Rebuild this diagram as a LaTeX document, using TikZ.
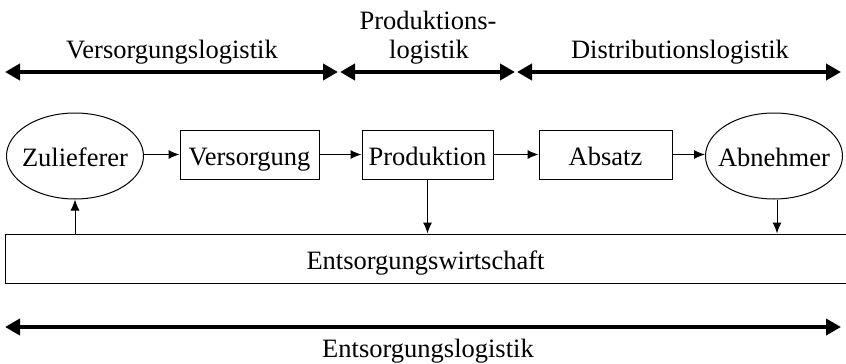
\documentclass[tikz,border=0pt]{standalone}
\usepackage{fontspec}
\setmainfont{Liberation Serif}
\usetikzlibrary{arrows.meta,shapes.geometric}
\begin{document}
\begin{tikzpicture}[x=1pt,y=-1pt,
  every node/.style={font=\fontsize{26.5}{30}\selectfont, inner sep=0pt},
  boxtext/.style={text height=21pt, text depth=0pt},
  stage/.style={draw, boxtext, line width=1pt, minimum width=139pt, minimum height=49pt},
  party/.style={draw, boxtext, ellipse, inner xsep=-10pt, line width=1pt, minimum width=137pt, minimum height=86pt},
  sink/.style={draw, boxtext, line width=1pt, minimum height=49pt},
  flow/.style={line width=1pt, -{Latex[length=11pt,width=9pt]}},
  span/.style={line width=4pt, {Triangle[length=15pt,width=16pt]}-{Triangle[length=15pt,width=16pt]}},
  label/.style={anchor=base}]
\useasboundingbox (0,0) rectangle (846,364);

% logistics ranges
\coordinate (v1) at (5,72);   \coordinate (v2) at (338,72);
\coordinate (p1) at (340,72); \coordinate (p2) at (515,72);
\coordinate (d1) at (517,72); \coordinate (d2) at (841,72);
\coordinate (e1) at (5,327);  \coordinate (e2) at (841,327);
\draw[span] (v1) -- (v2);
\draw[span] (p1) -- (p2);
\draw[span] (d1) -- (d2);
\draw[span] (e1) -- (e2);
\node[label] (lv) at (172,58) {Versorgungslogistik};
\node[label] (lp1) at (428,29) {Produktions-};
\node[label] (lp2) at (429,58) {logistik};
\node[label] (ld) at (680,58) {Distributionslogistik};
\node[label] (le) at (428,357) {Entsorgungslogistik};

% material flow
\node[party] (zul) at (75,156) {Zulieferer};
\node[stage] (ver) at (249.5,154.5) {Versorgung};
\node[stage, minimum width=131pt] (pro) at (427.5,154.5) {Produktion};
\node[stage, minimum width=133pt] (abs) at (605.5,154.5) {Absatz};
\node[party] (abn) at (774,156) {Abnehmer};
\node[sink, minimum width=846pt, anchor=west] (ent) at (5,258.5) {\hspace*{-6pt}Entsorgungswirtschaft};

\draw[flow] (zul.east |- ver) -- (ver.west);
\draw[flow] (ver.east) -- (pro.west);
\draw[flow] (pro.east) -- (abs.west);
\draw[flow] (abs.east) -- (abn.west |- abs);
\draw[flow] (ent.north -| zul.south) -- (zul.south);
\draw[flow] (pro.south) -- (pro.south |- ent.north);
\draw[flow] (abn.south -| 777,0) -- (777,0 |- ent.north);
\end{tikzpicture}
\end{document}
